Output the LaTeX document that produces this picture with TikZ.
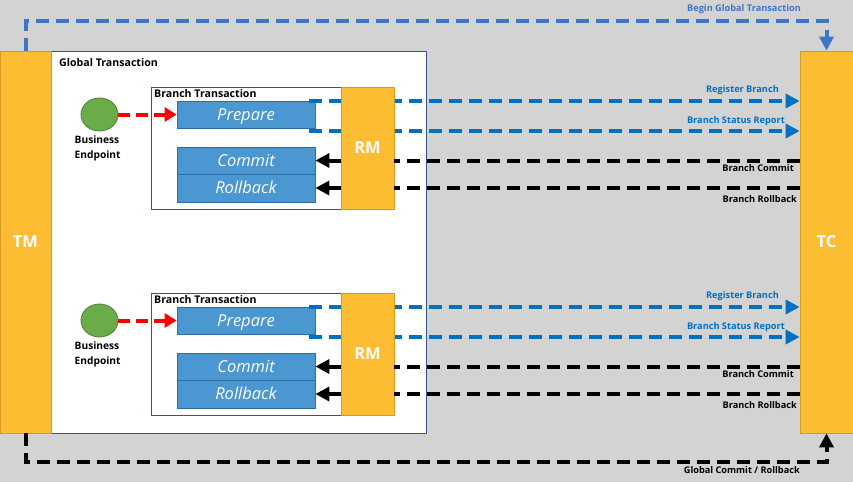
\documentclass[tikz,border=0pt]{standalone}
\usepackage{fontspec}
\setmainfont{Open Sans}
\usetikzlibrary{arrows.meta,shapes.geometric}
\definecolor{bg}{HTML}{D3D3D3}
\definecolor{orfill}{HTML}{FDBD33}
\definecolor{ordraw}{HTML}{D49A1E}
\definecolor{boxblue}{HTML}{4A97D2}
\definecolor{boxblueb}{HTML}{2E6DA4}
\definecolor{frame}{HTML}{2F5597}
\definecolor{lineblue}{HTML}{0070C0}
\definecolor{topblue}{HTML}{4075C6}
\definecolor{gfill}{HTML}{6AAD48}
\definecolor{gdraw}{HTML}{4E7F33}
\tikzset{
  orbox/.style={draw=ordraw, fill=orfill, line width=0.8pt, inner sep=0pt, text=white, font=\bfseries\fontsize{16.5}{18}\selectfont},
  framebox/.style={draw=frame, fill=white, line width=0.8pt, inner sep=0pt},
  opbox/.style={draw=boxblueb, fill=boxblue, line width=0.8pt, minimum width=138pt, minimum height=27pt, inner sep=0pt, text height=11.5pt, text depth=0pt, text=white, font=\itshape\fontsize{16.5}{18}\selectfont},
  tip/.style={-{Triangle[length=14pt,width=14pt]}},
  bluedash/.style={draw=lineblue, line width=4pt, dash pattern=on 13pt off 7pt, tip},
  blackdash/.style={draw=black, line width=4pt, dash pattern=on 13pt off 7pt},
  blackarrow/.style={draw=black, line width=4pt, tip},
  reddash/.style={draw=red, line width=4pt, dash pattern=on 12pt off 6pt, -{Triangle[length=12pt,width=14pt]}},
  lab/.style={font=\bfseries\fontsize{9.2}{11}\selectfont, inner sep=0pt},
  bluelab/.style={lab, text=lineblue},
  ttl/.style={font=\bfseries\fontsize{10.6}{12}\selectfont, inner sep=0pt, anchor=west},
}
\begin{document}
\begin{tikzpicture}[x=1pt,y=-1pt]
\fill[bg] (0,0) rectangle (853,482);
\useasboundingbox (0,0) rectangle (853,482);
% global transaction frame
\node[framebox, minimum width=375pt, minimum height=382pt] (gt) at (238.5,242) {};
\node[ttl] (gtl) at (59,62.5) {Global Transaction};
% TM and TC
\node[orbox, minimum width=51pt, minimum height=382pt] (tm) at (25.5,242) {TM};
\node[orbox, minimum width=53pt, minimum height=382pt] (tc) at (826.5,242) {TC};
% top and bottom connectors
\draw[draw=topblue, line width=4pt, dash pattern=on 13pt off 7pt, tip]
  (tm.north) -- ++(0,-30) -| (tc.north);
\node[bluelab, anchor=east, text=topblue] (bgt) at (801,9.5) {Begin Global Transaction};
\draw[blackdash, tip]
  (tm.south) -- ++(0,29) -| (tc.south);
\node[lab, anchor=east] (gcr) at (800,470) {Global Commit / Rollback};

\foreach \i/\dy in {1/0, 2/206}{
  \begin{scope}[yshift=-\dy pt]
  \node[framebox, minimum width=192pt, minimum height=122pt] (bt\i) at (247,148) {};
  \node[ttl] (btl\i) at (154,93.5) {Branch Transaction};
  \node[opbox] (prep\i) at (246,114.5) {Prepare};
  \node[opbox] (com\i) at (246,160.5) {Commit};
  \node[opbox, minimum height=28pt] (rb\i) at (246,188) {Rollback};
  \node[draw=gdraw, fill=gfill, line width=0.8pt, ellipse, minimum width=37pt, minimum height=33pt, inner sep=0pt] (be\i) at (99.5,114.5) {};
  \node[font=\bfseries\fontsize{10.2}{15}\selectfont, align=left, anchor=north west, inner sep=0pt] (bel\i) at (74.5,135.5) {Business\\Endpoint};
  \draw[reddash] (be\i.east) -- (prep\i.west);
  \coordinate (rs\i) at (309,101);
  \coordinate (ss\i) at (309,131);
  \draw[bluedash] (rs\i) -- (rs\i -| tc.west);
  \draw[bluedash] (ss\i) -- (ss\i -| tc.west);
  \node[orbox, minimum width=53pt, minimum height=122pt] (rm\i) at (367.5,148) {RM};
  \draw[blackdash] (com\i.east -| tc.west) -- (com\i.east -| rm\i.east);
  \draw[blackarrow] (com\i.east -| rm\i.west) -- (com\i.east);
  \draw[blackdash] (rb\i.east -| tc.west) -- (rb\i.east -| rm\i.east);
  \draw[blackarrow] (rb\i.east -| rm\i.west) -- (rb\i.east);
  \node[bluelab, anchor=east] (rbl\i) at (779,90.5) {Register Branch};
  \node[bluelab, anchor=east] (bsr\i) at (785,121.5) {Branch Status Report};
  \node[lab, anchor=east] (bcl\i) at (794,168.5) {Branch Commit};
  \node[lab, anchor=east] (brl\i) at (797,199.5) {Branch Rollback};
  \end{scope}
}
\end{tikzpicture}
\end{document}
